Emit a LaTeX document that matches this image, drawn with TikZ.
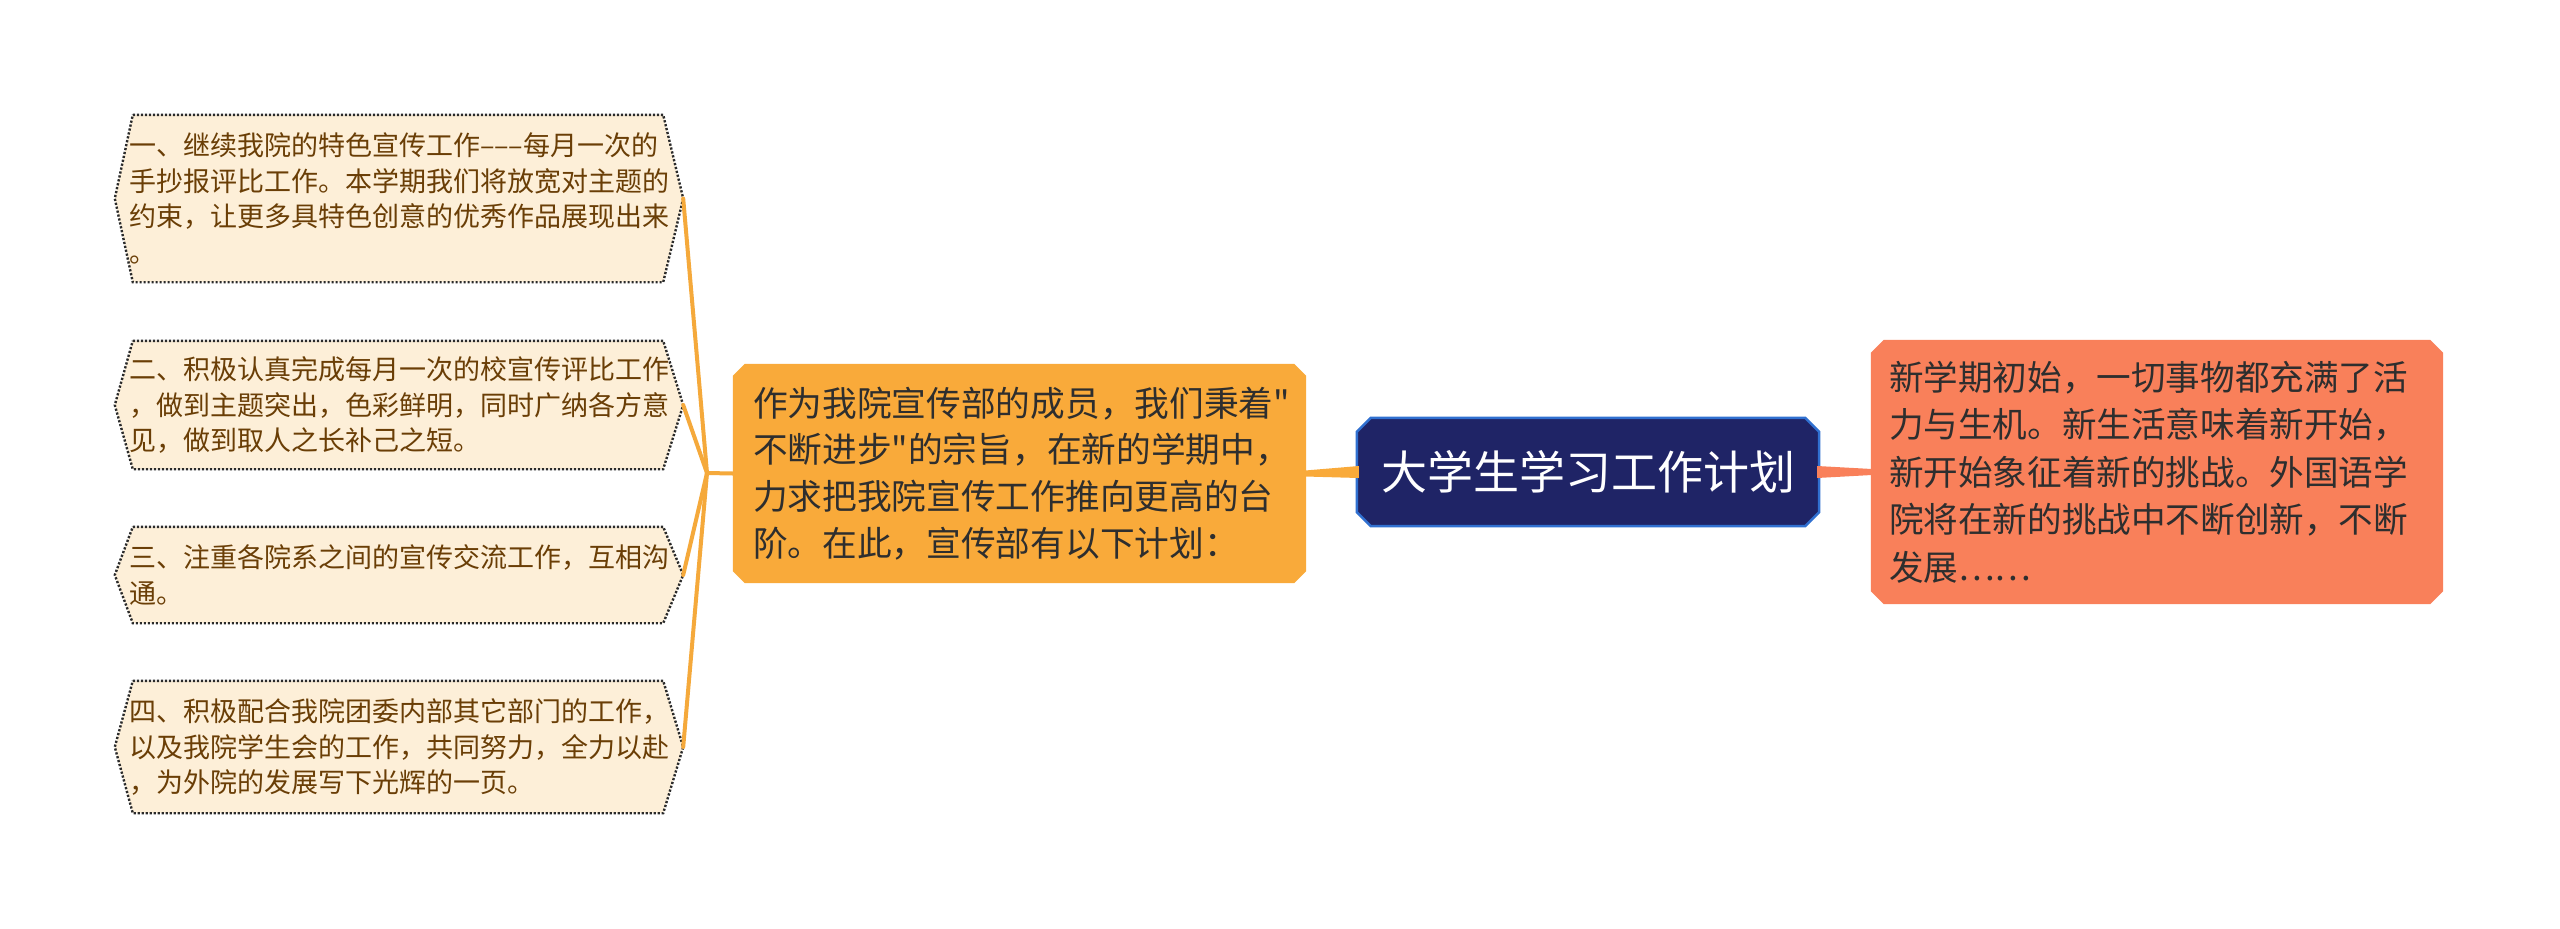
\documentclass[tikz,border=0pt]{standalone}
\usepackage{fontspec}
\newfontfamily\cjk{Noto Sans CJK SC}
\usetikzlibrary{calc,backgrounds}
\definecolor{leaffill}{HTML}{FDEFD8}
\definecolor{leafborder}{HTML}{2A2A2A}
\definecolor{leaftext}{HTML}{6A3E06}
\definecolor{orangefill}{HTML}{F9AA3A}
\definecolor{salmonfill}{HTML}{F9805A}
\definecolor{navyfill}{HTML}{1F2466}
\definecolor{navyborder}{HTML}{3070D0}
\definecolor{linecol}{HTML}{F5A93B}
\definecolor{darktext}{HTML}{2E2E2E}
\begin{document}
\begin{tikzpicture}[x=1pt,y=-1pt,
  leaf/.style={minimum width=568pt, text width=540pt, align=left, inner sep=0pt,
    font=\cjk\fontsize{27}{35.5}\selectfont, text=leaftext},
  leafshape/.style={fill=leaffill, draw=leafborder, line width=2.4pt, dash pattern=on 2.2pt off 1.8pt},
  midbox/.style={inner sep=0pt, align=left, text=darktext},
  conn/.style={draw=linecol, line width=4pt},
]
\useasboundingbox (0,0) rectangle (2560,929);

% nodes
\node[leaf, minimum height=167pt] (l1) at (399,198.5) {一、继续我院的特色宣传工作–––每月一次的\\手抄报评比工作。本学期我们将放宽对主题的\\约束，让更多具特色创意的优秀作品展现出来\\。};
\node[leaf, minimum height=128pt] (l2) at (399,405) {二、积极认真完成每月一次的校宣传评比工作\\，做到主题突出，色彩鲜明，同时广纳各方意\\见，做到取人之长补己之短。};
\node[leaf, minimum height=96pt] (l3) at (399,575) {三、注重各院系之间的宣传交流工作，互相沟\\通。};
\node[leaf, minimum height=132pt] (l4) at (399,747) {四、积极配合我院团委内部其它部门的工作，\\以及我院学生会的工作，共同努力，全力以赴\\，为外院的发展写下光辉的一页。};

\node[midbox, minimum width=573pt, minimum height=219pt, text width=533pt,
  font=\cjk\fontsize{34.7}{46.8}\selectfont] (m) at (1019.5,473.5)
  {作为我院宣传部的成员，我们秉着"\\不断进步"的宗旨，在新的学期中，\\力求把我院宣传工作推向更高的台\\阶。在此，宣传部有以下计划：};

\node[inner sep=0pt, minimum width=462pt, minimum height=108pt, text=white,
  font=\cjk\fontsize{46}{55}\selectfont] (c) at (1588,472) {大学生学习工作计划};

\node[midbox, minimum width=572pt, minimum height=264pt, text width=536pt,
  font=\cjk\fontsize{34.6}{47.6}\selectfont] (r) at (2157,472)
  {新学期初始，一切事物都充满了活\\力与生机。新生活意味着新开始，\\新开始象征着新的挑战。外国语学\\院将在新的挑战中不断创新，不断\\发展……};

\coordinate (j) at (707,473);

\begin{pgfonlayer}{background}
  \fill[white] (0,0) rectangle (2560,929);
  % leaf hexagons
  \foreach \n in {l1,l2,l3,l4}{
    \path[leafshape] ($(\n.north west)+(18,0)$) -- ($(\n.north east)+(-20,0)$) -- (\n.east)
      -- ($(\n.south east)+(-20,0)$) -- ($(\n.south west)+(18,0)$) -- (\n.west) -- cycle;
  }
  % chamfered boxes
  \path[fill=orangefill] ($(m.north west)+(12,0)$) -- ($(m.north east)+(-12,0)$) -- ($(m.north east)+(0,12)$)
    -- ($(m.south east)+(0,-12)$) -- ($(m.south east)+(-12,0)$) -- ($(m.south west)+(12,0)$)
    -- ($(m.south west)+(0,-12)$) -- ($(m.north west)+(0,12)$) -- cycle;
  \path[fill=salmonfill] ($(r.north west)+(13,0)$) -- ($(r.north east)+(-13,0)$) -- ($(r.north east)+(0,13)$)
    -- ($(r.south east)+(0,-13)$) -- ($(r.south east)+(-13,0)$) -- ($(r.south west)+(13,0)$)
    -- ($(r.south west)+(0,-13)$) -- ($(r.north west)+(0,13)$) -- cycle;
  \path[fill=navyfill, draw=navyborder, line width=2.5pt] ($(c.north west)+(14,0)$) -- ($(c.north east)+(-14,0)$) -- ($(c.north east)+(0,14)$)
    -- ($(c.south east)+(0,-14)$) -- ($(c.south east)+(-14,0)$) -- ($(c.south west)+(14,0)$)
    -- ($(c.south west)+(0,-14)$) -- ($(c.north west)+(0,14)$) -- cycle;
  % tapered connectors
  \path[fill=orangefill] ($(c.west)+(2,-6)$) -- ($(c.west)+(2,6)$) -- ($(m.east)+(-1,3)$) -- ($(m.east)+(-1,-3)$) -- cycle;
  \path[fill=salmonfill] ($(c.east)+(-2,-6)$) -- ($(c.east)+(-2,6)$) -- ($(r.west)+(1,3)$) -- ($(r.west)+(1,-3)$) -- cycle;
  % branch lines
  \draw[conn] (m.west) -- (j);
  \foreach \n in {l1,l2,l3,l4}{ \draw[conn, line cap=round] (j) -- (\n.east); }
\end{pgfonlayer}
\end{tikzpicture}
\end{document}
